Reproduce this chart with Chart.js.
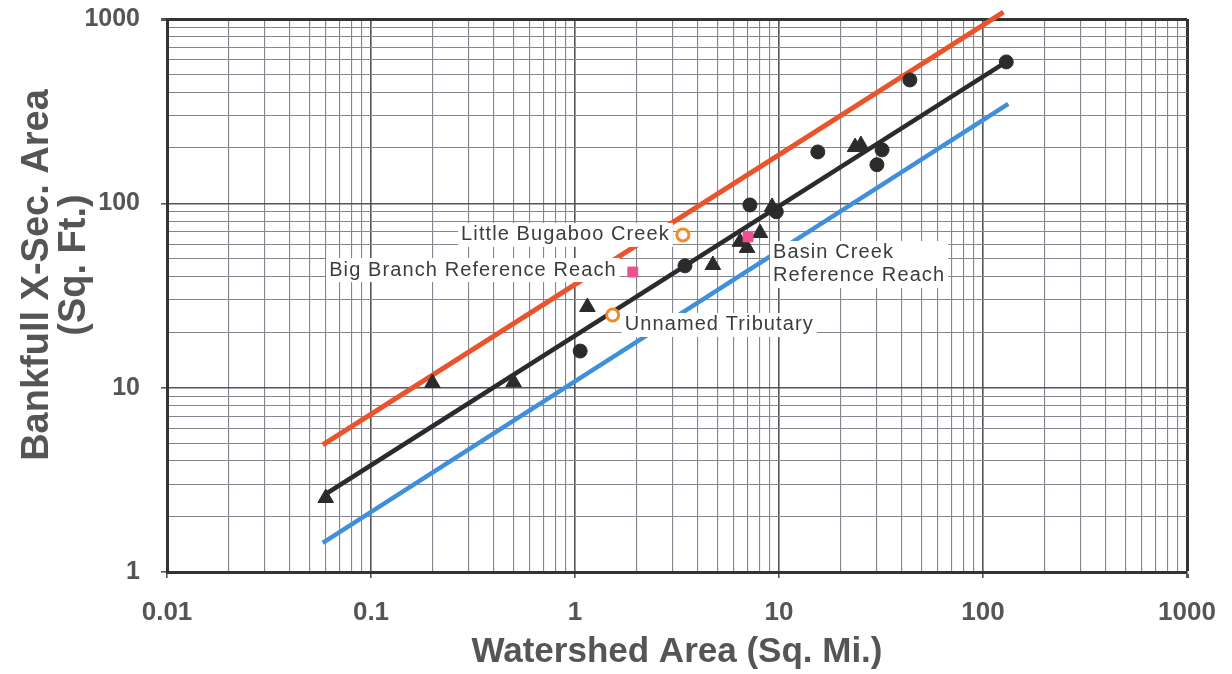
<!DOCTYPE html>
<html>
<head>
<meta charset="utf-8">
<script src="https://cdn.jsdelivr.net/npm/chart.js@4.4.1/dist/chart.umd.min.js"></script>
<style>
	body { margin: 0; background: #fff; }
	#wrap { width: 1232px; height: 674px; position: relative; }
</style>
</head>
<body>
<div id="wrap"><canvas id="graph"></canvas></div>
<script>
const xTickLabels = ['0.01', '0.1', '1', '10', '100', '1000'];
const yTickLabels = ['1', '10', '100', '1000'];

// regression lines as [area, x-sec area] end points
const upperLine = [[0.058, 4.9], [126, 1090]];
const meanLine = [[0.06, 2.65], [130, 585]];
const lowerLine = [[0.058, 1.44], [133, 346]];

const circleArea = [1.06, 3.46, 7.2, 9.7, 15.5, 32, 30.2, 43.8, 130];
const circleXsec = [15.8, 45.8, 98, 90, 190, 195, 162, 467, 585];

const triArea = [0.06, 0.2, 0.5, 1.15, 4.74, 6.44, 6.97, 8.07, 9.25, 23.6, 25.2];
const triXsec = [2.52, 10.6, 10.7, 27.4, 46.3, 61.8, 57.3, 69, 95.6, 202, 207];

const refArea = [1.92, 7.05];
const refXsec = [42.4, 65.7];

const siteArea = [3.38, 1.53];
const siteXsec = [67.4, 24.8];

const notes = [
	{ ds: 6, i: 0, lines: ['Little Bugaboo Creek'], align: 'right', dx: -13, dy: 0 },
	{ ds: 6, i: 1, lines: ['Unnamed Tributary'], align: 'left', dx: 12, dy: 10 },
	{ ds: 5, i: 0, lines: ['Big Branch Reference Reach'], align: 'right', dx: -16, dy: -2 },
	{ ds: 5, i: 1, lines: ['Basin Creek', 'Reference Reach'], align: 'left', dx: 25, dy: 16 }
];

function logGrid(lo, hi) {
	const out = [];
	for (let e = lo; e < hi; e++) {
		for (let m = 1; m < 10; m++) out.push(Number((m * Math.pow(10, e)).toPrecision(3)));
	}
	out.push(Math.pow(10, hi));
	return out;
}

function isDecade(v) {
	const l = Math.log10(v);
	return Math.abs(l - Math.round(l)) < 1e-9;
}

const pts = (xs, ys) => xs.map((x, i) => ({ x: x, y: ys[i] }));
const seg = (arr) => arr.map(p => ({ x: p[0], y: p[1] }));

const gridColor = ctx => {
	const v = ctx.tick.value;
	if (v === 1000) return '#333';
	return isDecade(v) ? '#555' : '#85858f';
};
const gridWidth = ctx => {
	const v = ctx.tick.value;
	if (v === 1000) return 3;
	return isDecade(v) ? 1.6 : 1.1;
};
const tickMark = ctx => isDecade(ctx.tick.value) ? '#555' : 'rgba(0,0,0,0)';

// keep the plot box where the reference has it
function noPad(s) {
	s.paddingTop = 0;
	s.paddingBottom = 0;
	s.paddingLeft = 0;
	s.paddingRight = 0;
}

const notePlugin = {
	id: 'notes',
	beforeDatasetDraw(chart, args) {
		if (args.index !== 3) return;
		const c = chart.ctx;
		c.save();
		c.font = '20px "Liberation Sans", Arial, sans-serif';
		c.letterSpacing = '1.1px';
		c.textBaseline = 'middle';
		notes.forEach(n => {
			const p = chart.getDatasetMeta(n.ds).data[n.i];
			const x0 = p.x + n.dx;
			const w = Math.max(...n.lines.map(t => c.measureText(t).width));
			const left = n.align === 'right' ? x0 - w : x0;
			const top = p.y + n.dy - 12;
			c.fillStyle = '#fff';
			c.fillRect(left - 3, top, w + 6, n.lines.length * 23 + 1);
			c.fillStyle = '#3c3c3c';
			c.textAlign = n.align;
			n.lines.forEach((t, k) => c.fillText(t, x0, p.y + n.dy + k * 23));
		});
		c.restore();
	},
	afterDraw(chart) {
		const c = chart.ctx;
		const a = chart.chartArea;
		c.save();
		c.fillStyle = '#555';
		c.textAlign = 'center';
		c.textBaseline = 'alphabetic';
		c.font = 'bold 35px "Liberation Sans", Arial, sans-serif';
		c.fillText('Watershed Area (Sq. Mi.)', (a.left + a.right) / 2, 662);
		c.font = 'bold 38px "Liberation Sans", Arial, sans-serif';
		c.translate(48, 275);
		c.rotate(-Math.PI / 2);
		c.fillText('Bankfull X-Sec. Area', 0, 0);
		c.fillText('(Sq. Ft.)', 10, 37);
		c.restore();
	}
};

const ctx = document.getElementById('graph').getContext('2d');

const myChart = new Chart(ctx, {
	type: 'scatter',
	data: {
		datasets: [{
			data: seg(upperLine),
			showLine: true,
			borderColor: '#e9542c',
			borderWidth: 5,
			pointRadius: 0,
			clip: false,
			order: 10
		}, {
			data: seg(meanLine),
			showLine: true,
			borderColor: '#2b2b2b',
			borderWidth: 4.5,
			pointRadius: 0,
			clip: false,
			order: 10
		}, {
			data: seg(lowerLine),
			showLine: true,
			borderColor: '#3f8fda',
			borderWidth: 4.5,
			pointRadius: 0,
			clip: false,
			order: 10
		}, {
			data: pts(circleArea, circleXsec),
			pointStyle: 'circle',
			pointRadius: 7,
			backgroundColor: '#2b2b2b',
			borderColor: '#2b2b2b',
			borderWidth: 1,
			order: 4
		}, {
			data: pts(triArea, triXsec),
			pointStyle: 'triangle',
			pointRadius: 9,
			backgroundColor: '#2b2b2b',
			borderColor: '#2b2b2b',
			borderWidth: 1,
			order: 3
		}, {
			data: pts(refArea, refXsec),
			pointStyle: 'rect',
			pointRadius: 7,
			backgroundColor: '#ee4f8e',
			borderColor: '#ee4f8e',
			borderWidth: 1,
			order: 2
		}, {
			data: pts(siteArea, siteXsec),
			pointStyle: 'circle',
			pointRadius: 6,
			backgroundColor: '#fff',
			borderColor: '#f28a2a',
			borderWidth: 3,
			order: 1
		}]
	},
	options: {
		responsive: true,
		maintainAspectRatio: false,
		animation: false,
		layout: { padding: { top: 19, right: 45, left: 0, bottom: 0 } },
		plugins: {
			legend: { display: false },
			tooltip: { enabled: false }
		},
		scales: {
			x: {
				type: 'logarithmic',
				position: 'bottom',
				min: 0.01,
				max: 1000,
				afterBuildTicks: s => { s.ticks = logGrid(-2, 3).map(v => ({ value: v })); },
				afterFit: s => { s.height = 102; noPad(s); },
				ticks: {
					autoSkip: false,
					maxRotation: 0,
					minRotation: 0,
					padding: 19,
					color: '#555',
					font: { family: '"Liberation Sans", Arial, sans-serif', size: 26, weight: 'bold' },
					callback: v => xTickLabels.find(t => Number(t) === v) || ''
				},
				grid: { color: gridColor, lineWidth: gridWidth, tickColor: tickMark, tickLength: 6 },
				border: { color: '#333', width: 3 }
			},
			y: {
				type: 'logarithmic',
				min: 1,
				max: 1000,
				afterBuildTicks: s => { s.ticks = logGrid(0, 3).map(v => ({ value: v })); },
				afterFit: s => { s.width = 167; noPad(s); },
				ticks: {
					autoSkip: false,
					padding: 21,
					color: '#555',
					font: { family: '"Liberation Sans", Arial, sans-serif', size: 25, weight: 'bold' },
					callback: v => yTickLabels.find(t => Number(t) === v) || ''
				},
				grid: { color: gridColor, lineWidth: gridWidth, tickColor: tickMark, tickLength: 6 },
				border: { color: '#333', width: 3 }
			}
		}
	},
	plugins: [notePlugin]
});
</script>
</body>
</html>
